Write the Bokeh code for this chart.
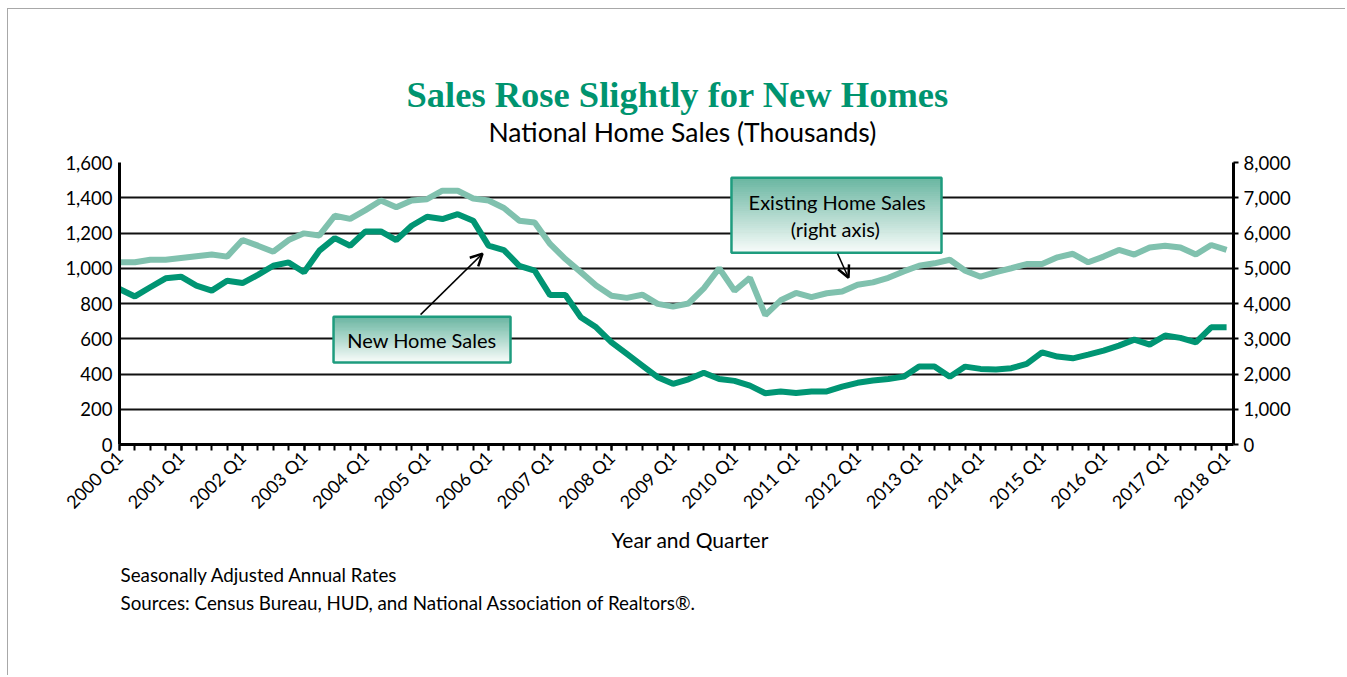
import math
import numpy as np
from bokeh.plotting import figure
from bokeh.models import (Range1d, LinearAxis, FixedTicker, NumeralTickFormatter,
                          Label, Arrow, OpenHead, Title)
from bokeh.embed import file_html
from bokeh.resources import INLINE

# ---------------- data ----------------
years = list(range(2000, 2019))
year_labels = [f"{y} Q1" for y in years]
quarter_idx = list(range(73))  # 2000 Q1 .. 2018 Q1

new_home = [882, 840, 892, 943, 952, 901, 873, 929, 916, 962,
            1014, 1033, 977, 1100, 1171, 1128, 1209, 1209, 1160, 1241,
            1292, 1279, 1307, 1270, 1128, 1103, 1014, 986, 848, 848,
            722, 665, 580, 514, 448, 382, 344,
            370, 407, 372, 361, 334, 291, 301, 292, 301, 301, 328,
            350, 363, 372, 385, 442, 442, 385, 442,
            429, 425, 433, 457, 523, 499, 489, 510, 533, 561, 595, 567,
            618, 605, 580, 665, 665]

existing_home = [5170, 5170, 5240, 5240, 5290, 5340, 5390, 5330, 5800, 5640,
                 5470, 5800, 5990, 5930, 6490, 6400, 6650, 6920, 6730, 6920,
                 6960, 7200, 7200, 6980, 6920, 6710, 6350, 6300, 5690, 5260,
                 4890, 4510, 4220, 4160, 4250, 3990, 3910,
                 4000, 4430, 5000, 4360, 4730, 3670, 4090, 4300, 4180, 4290, 4340,
                 4530, 4600, 4730, 4910, 5070, 5140, 5240, 4930,
                 4760, 4890, 5000, 5120, 5120, 5310, 5410, 5170, 5330, 5520, 5390,
                 5590, 5640, 5590, 5390, 5660, 5520]

left_ticks = [0, 200, 400, 600, 800, 1000, 1200, 1400, 1600]
right_ticks = [0, 1000, 2000, 3000, 4000, 5000, 6000, 7000, 8000]

title_text = "Sales Rose Slightly for New Homes"
subtitle_text = "National Home Sales (Thousands)"
x_axis_title = "Year and Quarter"
note_lines = ["Seasonally Adjusted Annual Rates",
              "Sources: Census Bureau, HUD, and National Association of Realtors\u00ae."]

# ---------------- styles ----------------
DARK = "#009573"
LIGHT = "#80c1ae"
TITLE_GREEN = "#00946f"
SANS = "Lato"

p = figure(width=1338, height=667, output_backend="svg", toolbar_location=None,
           x_range=Range1d(0, 72.45), y_range=Range1d(0, 1600),
           min_border_left=111, min_border_right=113,
           min_border_top=153, min_border_bottom=232)
p.styles = {"border-top": "1px solid #a8a8a8", "border-left": "1px solid #a8a8a8",
            "margin-left": "7px", "margin-top": "8px"}
p.outline_line_color = None
p.background_fill_color = "white"
p.border_fill_color = "white"

# x axis
major = list(range(0, 73, 4))
p.xaxis.ticker = FixedTicker(ticks=major, minor_ticks=quarter_idx)
p.xaxis.major_label_overrides = {i: lab for i, lab in zip(major, year_labels)}
p.xaxis.major_label_orientation = math.pi / 4
p.xaxis.axis_line_width = 3
p.xaxis.axis_line_color = "black"
p.xaxis.major_tick_in = 0
p.xaxis.major_tick_out = 6
p.xaxis.minor_tick_in = 0
p.xaxis.minor_tick_out = 6
p.xaxis.major_tick_line_width = 2
p.xaxis.minor_tick_line_width = 2
p.xaxis.major_label_text_font = SANS
p.xaxis.major_label_text_font_size = "18px"
p.xaxis.major_label_text_color = "black"
p.xaxis.major_label_standoff = 4

# left axis
p.yaxis.ticker = FixedTicker(ticks=left_ticks)
p.yaxis.formatter = NumeralTickFormatter(format="0,0")
p.yaxis.axis_line_width = 3
p.yaxis.axis_line_color = "black"
p.yaxis.major_tick_out = 0
p.yaxis.major_tick_in = 0
p.yaxis.minor_tick_line_color = None
p.yaxis.major_label_text_font = SANS
p.yaxis.major_label_text_font_size = "18.5px"
p.yaxis.major_label_text_color = "black"
p.yaxis.major_label_standoff = 7

# right axis
p.extra_y_ranges = {"right": Range1d(0, 8000)}
ax_r = LinearAxis(y_range_name="right", ticker=FixedTicker(ticks=right_ticks),
                  formatter=NumeralTickFormatter(format="0,0"))
ax_r.axis_line_width = 3
ax_r.axis_line_color = "black"
ax_r.major_tick_out = 5
ax_r.major_tick_in = 0
ax_r.major_tick_line_width = 2
ax_r.minor_tick_line_color = None
ax_r.major_label_text_font = SANS
ax_r.major_label_text_font_size = "18.5px"
ax_r.major_label_text_color = "black"
ax_r.major_label_standoff = 5
p.add_layout(ax_r, "right")

# grid
p.xgrid.grid_line_color = None
p.ygrid.ticker = FixedTicker(ticks=left_ticks)
p.ygrid.grid_line_color = "#111111"
p.ygrid.grid_line_width = 2

# lines
p.line(quarter_idx, existing_home, y_range_name="right", line_width=6, color=LIGHT)
p.line(quarter_idx, new_home, line_width=6, color=DARK)


# gradient callout boxes
def hex_to_rgb(h):
    h = h.lstrip("#")
    return [int(h[i:i + 2], 16) for i in (0, 2, 4)]


def gradient_box(x0, x1, ytop, ybot, n=40):
    c0 = np.array(hex_to_rgb("#6ab6a1"))
    c1 = np.array(hex_to_rgb("#f6fbf9"))
    edges = np.linspace(ytop, ybot, n + 1)
    cols = []
    for k in range(n):
        t = k / (n - 1)
        c = (c0 * (1 - t) + c1 * t).round().astype(int)
        cols.append("#%02x%02x%02x" % tuple(c))
    p.quad(left=[x0] * n, right=[x1] * n, top=list(edges[:-1]), bottom=list(edges[1:]),
           fill_color=cols, line_color=cols, line_width=1)
    p.quad(left=[x0], right=[x1], top=[ytop], bottom=[ybot], fill_color=None,
           line_color="#1e9c7e", line_width=2.5)


gradient_box(13.92, 25.43, 725, 465)
gradient_box(39.8, 53.46, 1513, 1088)

box_font = dict(text_font=SANS, text_font_size="20px", text_color="black",
                text_align="center", text_baseline="middle")
p.add_layout(Label(x=19.67, y=595, text="New Home Sales", **box_font))
p.add_layout(Label(x=46.67, y=1377, text="Existing Home Sales", **box_font))
p.add_layout(Label(x=46.55, y=1224, text="(right axis)", **box_font))

p.add_layout(Arrow(end=OpenHead(size=12, line_width=2.5, line_color="black"),
                   x_start=19.58, y_start=737, x_end=23.61, y_end=1083,
                   line_width=1.5, line_color="black"))
p.add_layout(Arrow(end=OpenHead(size=12, line_width=2.5, line_color="black"),
                   x_start=46.7, y_start=1083, x_end=47.41, y_end=946,
                   line_width=1.5, line_color="black"))

# titles (first added sits nearest the frame)
p.add_layout(Title(text=subtitle_text, align="left", offset=369, standoff=29,
                   text_font=SANS, text_font_size="26.5px", text_font_style="normal",
                   text_color="black"), "above")
p.add_layout(Title(text=title_text, align="left", offset=287, standoff=-30,
                   text_font="Liberation Serif", text_font_size="36.5px",
                   text_font_style="bold", text_color=TITLE_GREEN), "above")

# x-axis title and notes below the axis (first added sits nearest the axis)
p.add_layout(Title(text=x_axis_title, align="left", offset=492, standoff=3,
                   text_font=SANS, text_font_size="21px", text_font_style="normal",
                   text_color="black"), "below")
p.add_layout(Title(text=note_lines[0], align="left", offset=1, standoff=15,
                   text_font=SANS, text_font_size="18.8px", text_font_style="normal",
                   text_color="black"), "below")
p.add_layout(Title(text=note_lines[1], align="left", offset=1, standoff=-9,
                   text_font=SANS, text_font_size="18.8px", text_font_style="normal",
                   text_color="black"), "below")

open("out.html", "w").write(file_html(p, INLINE))
